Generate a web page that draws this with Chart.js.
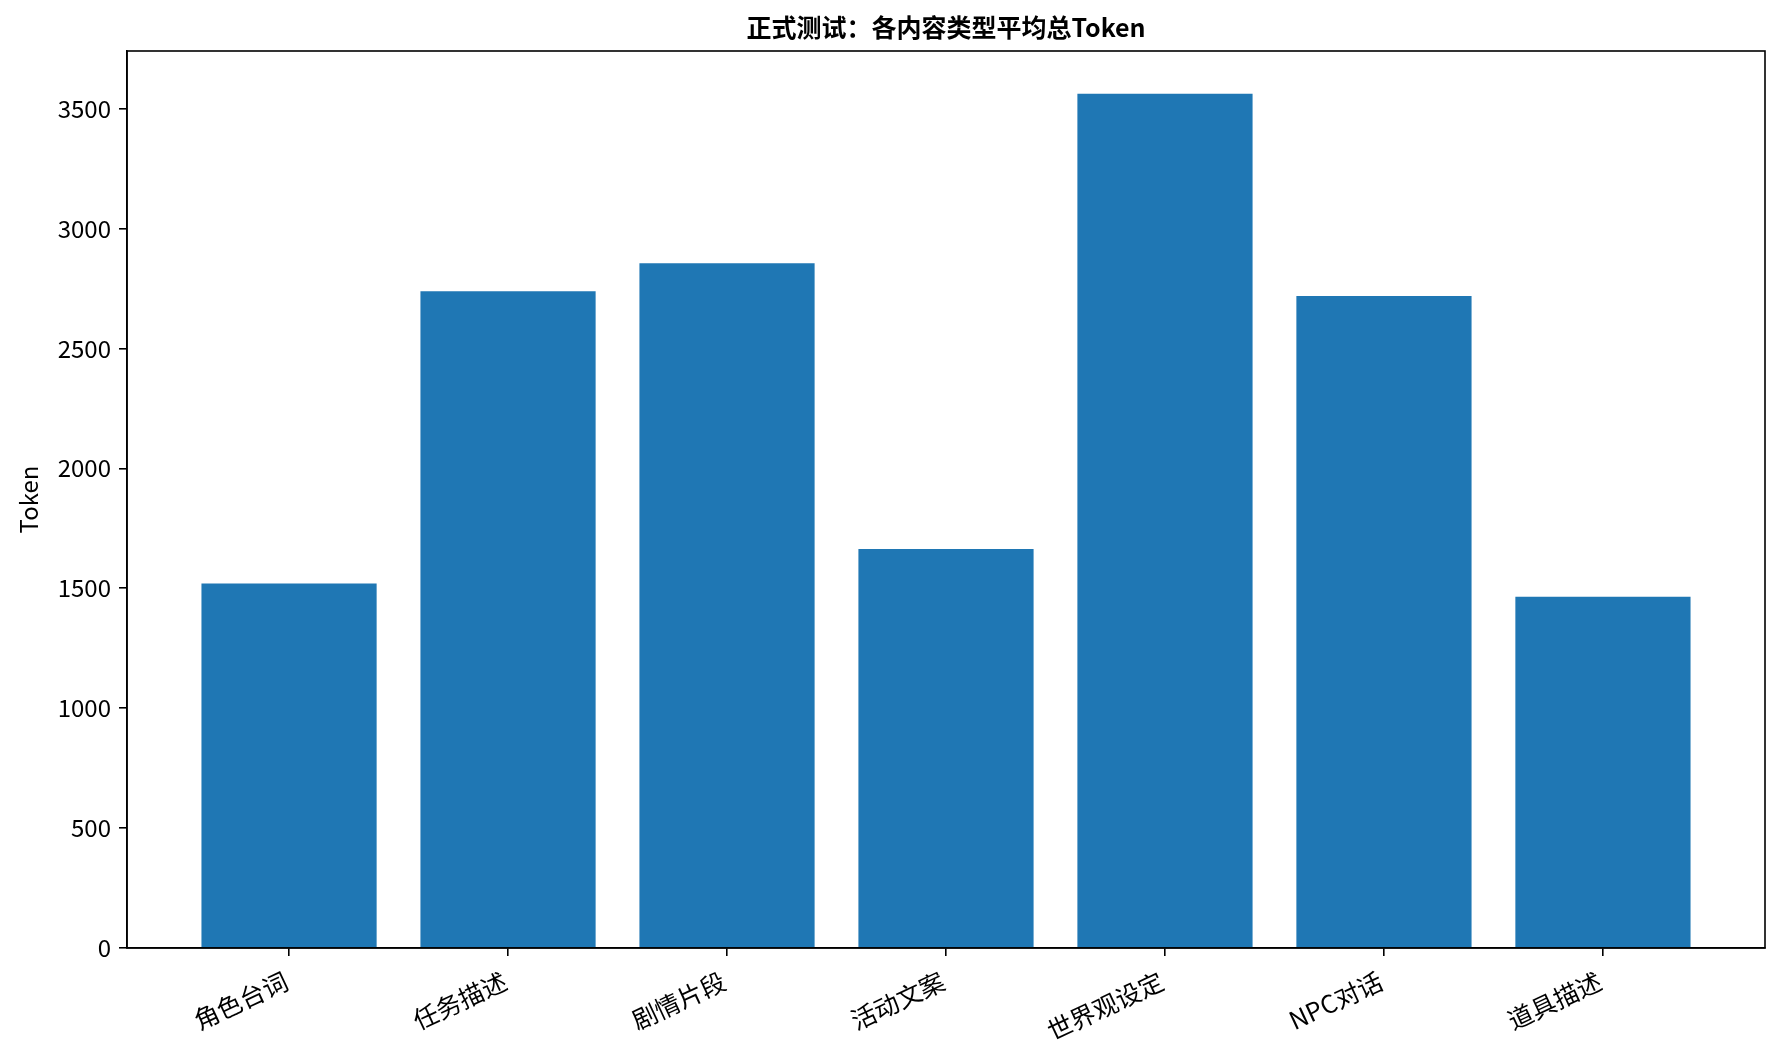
<!DOCTYPE html>
<html>
<head>
<meta charset="utf-8">
<script src="https://cdn.jsdelivr.net/npm/chart.js@4.4.0/dist/chart.umd.min.js"></script>
<style>
  body { margin: 0; background: #fff; }
  #wrap { width: 1782px; height: 1061px; }
</style>
</head>
<body>
<div id="wrap"><canvas id="tokenChart" width="1782" height="1061"></canvas></div>
<script>
const titel = "正式测试：各内容类型平均总Token";
const categorieen = ["角色台词", "任务描述", "剧情片段", "活动文案", "世界观设定", "NPC对话", "道具描述"];
const gemiddeldeToken = [1520, 2738, 2855, 1664, 3562, 2718, 1465];
const yTicks = [0, 500, 1000, 1500, 2000, 2500, 3000, 3500];

const fontFam = "'Noto Sans CJK SC', 'Noto Sans', sans-serif";

// kader rond het plotgebied + titel boven het midden van de plot
const kaderPlugin = {
    id: 'kader',
    afterDraw(chart) {
        const { ctx, chartArea } = chart;
        ctx.save();
        ctx.strokeStyle = '#000';
        ctx.lineWidth = 1.6;
        ctx.strokeRect(chartArea.left, chartArea.top, chartArea.right - chartArea.left, chartArea.bottom - chartArea.top);
        ctx.fillStyle = '#000';
        ctx.font = "bold 25px " + fontFam;
        ctx.textAlign = 'center';
        ctx.textBaseline = 'middle';
        ctx.fillText(titel, (chartArea.left + chartArea.right) / 2, 27);
        ctx.restore();
    }
};

const ctx = document.getElementById('tokenChart').getContext('2d');
new Chart(ctx, {
    type: 'bar',
    data: {
        datasets: [{
            label: 'Token',
            data: gemiddeldeToken.map((v, i) => ({ x: i, y: v })),
            backgroundColor: '#1f77b4',
            borderWidth: 0,
            barPercentage: 1.0,
            categoryPercentage: 0.8
        }]
    },
    options: {
        responsive: false,
        animation: false,
        devicePixelRatio: 1,
        layout: { padding: { top: 51, right: 17, left: 0, bottom: 0 } },
        plugins: {
            legend: { display: false },
            tooltip: { enabled: false },
            title: { display: false }
        },
        scales: {
            x: {
                type: 'linear',
                min: -0.74,
                max: 6.74,
                offset: false,
                afterFit: s => { s.height = 113; },
                grid: { offset: false, drawOnChartArea: false, drawTicks: true, tickLength: 8, color: '#000', lineWidth: 1.6 },
                border: { display: true, color: '#000', width: 1.6 },
                ticks: {
                    stepSize: 1,
                    includeBounds: false,
                    autoSkip: false,
                    maxRotation: 25,
                    minRotation: 25,
                    padding: 10,
                    labelOffset: -3,
                    color: '#000',
                    font: { family: fontFam, size: 25 },
                    callback: v => Number.isInteger(v) ? categorieen[v] : ''
                }
            },
            y: {
                min: 0,
                max: 3740,
                afterFit: s => { s.width = 127; },
                afterBuildTicks: s => { s.ticks = yTicks.map(v => ({ value: v })); },
                grid: { drawOnChartArea: false, drawTicks: true, tickLength: 8, color: '#000', lineWidth: 1.6 },
                border: { display: true, color: '#000', width: 1.6 },
                ticks: {
                    padding: 8,
                    color: '#000',
                    font: { family: fontFam, size: 24 },
                    callback: v => String(v)
                },
                title: {
                    display: true,
                    text: 'Token',
                    color: '#000',
                    font: { family: fontFam, size: 24 },
                    padding: { top: 14, bottom: 0 }
                }
            }
        }
    },
    plugins: [kaderPlugin]
});
</script>
</body>
</html>
